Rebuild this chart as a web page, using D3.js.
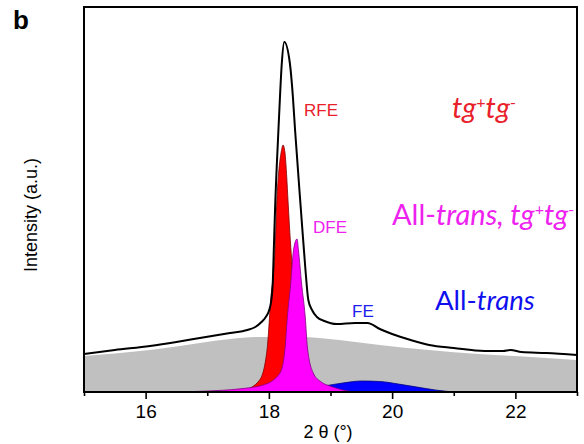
<!DOCTYPE html>
<html><head><meta charset="utf-8">
<script src="https://cdn.jsdelivr.net/npm/d3@7"></script>
<style>body{margin:0;background:#fff}svg{display:block}</style>
</head><body>
<svg id="c" width="584" height="444"></svg>
<script>
// ---- data ----
const totalX = [15.0,15.5,16.07,16.5,16.88,17.37,17.65,17.78,17.88,17.95,18.0,18.04,18.065,18.08,18.10,18.155,18.18,18.21,18.25,18.34,18.39,18.425,18.52,18.59,18.64,18.70,18.78,18.9,19.1,19.4,19.6,19.8,20.0,20.3,20.6,21.0,21.5,21.8,21.92,22.1,22.5,23.0];
const totalY = [38,42,46,50,54,59,62,65,70,75,81,92,112,142,182,262,295,329,350,329,295,262,182,125,92,82,75,71,68,69,69,63,58,52,47,44,41,41,42,40,39,37];
const bgX = [15.0,15.5,16.07,16.5,16.88,17.37,17.86,18.5,19.14,19.8,20.6,21.4,22.25,23.0];
const bgY = [36,38.5,42,45.5,49,53,55,55,52,47,42,38,35,32];
const rfeX = [17.3,17.6,17.85,17.97,18.03,18.10,18.13,18.16,18.20,18.23,18.26,18.29,18.31,18.35,18.40,18.50,18.60,18.80,19.0];
const rfeY = [0,2,12,42,92,142,192,220,240,247,240,215,192,150,110,60,30,10,0];
const dfeX = [16.5,17.0,17.5,17.91,18.18,18.26,18.30,18.355,18.40,18.457,18.48,18.53,18.59,18.625,18.72,18.85,18.99,19.2,19.4];
const dfeY = [0,1,3,7,19,42,75,109,142,153,142,109,75,45,19,10,6,2,0];
const feX = [18.0,18.5,18.9,19.2,19.5,19.8,20.1,20.4,20.7,21.0];
const feY = [0,2,6,9,11,10.5,8,5,2,0];
const majorTicks = [16,18,20,22];
const minorTicks = [15,17,19,21,23];

// ---- drawing ----
const svg = d3.select("#c");
const x = d3.scaleLinear().domain([15,23]).range([84,577]);
const y = d3.scaleLinear().domain([0,385]).range([392,7]);
const zip = (a,b) => a.map((v,i)=>[v,b[i]]);

const area = d3.area().x(d=>x(d[0])).y0(y(0)).y1(d=>y(d[1])).curve(d3.curveMonotoneX);
const line = d3.line().x(d=>x(d[0])).y(d=>y(d[1])).curve(d3.curveMonotoneX);

svg.append("path").datum(zip(bgX,bgY)).attr("d",area).attr("fill","#c0c0c0");
svg.append("path").datum(zip(feX,feY)).attr("d",area).attr("fill","#0000ff").attr("stroke","#000080").attr("stroke-width",0.8);
svg.append("path").datum(zip(rfeX,rfeY)).attr("d",area).attr("fill","#ff0000").attr("stroke","#800000").attr("stroke-width",0.8);
svg.append("path").datum(zip(dfeX,dfeY)).attr("d",area).attr("fill","#ff00ff").attr("stroke","#800080").attr("stroke-width",0.8);
svg.append("path").datum(zip(totalX,totalY)).attr("d",line).attr("fill","none").attr("stroke","#000").attr("stroke-width",2);

// frame
svg.append("rect").attr("x",x(15)).attr("y",y(385)).attr("width",x(23)-x(15)).attr("height",y(0)-y(385))
  .attr("fill","none").attr("stroke","#000").attr("stroke-width",2);

// axes
const gMaj = svg.append("g").attr("transform",`translate(0,${y(0)})`)
  .call(d3.axisBottom(x).tickValues(majorTicks).tickSize(7).tickPadding(6).tickFormat(d3.format("d")));
const gMin = svg.append("g").attr("transform",`translate(0,${y(0)})`)
  .call(d3.axisBottom(x).tickValues(minorTicks).tickSize(4).tickFormat(""));
[gMaj,gMin].forEach(g=>{g.select(".domain").remove();g.selectAll("line").attr("stroke","#000").attr("stroke-width",1.6);});
gMaj.selectAll("text").attr("font-family","Liberation Sans, Arial, sans-serif").attr("font-size",19).attr("fill","#000");

const sans = "Liberation Sans, Arial, sans-serif";
svg.append("text").attr("x",328).attr("y",438).attr("text-anchor","middle").attr("font-family",sans).attr("font-size",18).text("2 θ (°)");
svg.append("text").attr("transform","translate(37,215) rotate(-90)").attr("text-anchor","middle").attr("font-family",sans).attr("font-size",18).text("Intensity (a.u.)");
svg.append("text").attr("x",13).attr("y",29).attr("font-family",sans).attr("font-weight","bold").attr("font-size",26).text("b");

svg.append("text").attr("x",304).attr("y",116).attr("font-family",sans).attr("font-size",17).attr("fill","#e8202a").text("RFE");
svg.append("text").attr("x",313).attr("y",233).attr("font-family",sans).attr("font-size",17).attr("fill","#ee22ee").text("DFE");
svg.append("text").attr("x",352).attr("y",317).attr("font-family",sans).attr("font-size",17).attr("fill","#2020ee").text("FE");

const cal = "Lato, 'Open Sans', sans-serif";
function sup(t,s,d){ t.append("tspan").attr("dy",-d).attr("font-size",16).attr("font-style","normal").text(s); }
const t1 = svg.append("text").attr("x",452).attr("y",118).attr("font-family",cal).attr("font-size",29).attr("fill","#e8202a").attr("font-style","italic");
t1.append("tspan").text("tg"); sup(t1,"+",10); t1.append("tspan").attr("dy",10).text("tg"); sup(t1,"-",10);

const t2 = svg.append("text").attr("x",392).attr("y",225).attr("font-family",cal).attr("font-size",29).attr("fill","#ee22ee");
t2.append("tspan").text("All-"); t2.append("tspan").attr("font-style","italic").text("trans, tg"); sup(t2,"+",10); t2.append("tspan").attr("dy",10).attr("font-style","italic").text("tg"); sup(t2,"-",10);

const t3 = svg.append("text").attr("x",435).attr("y",310).attr("font-family",cal).attr("font-size",27.5).attr("fill","#1010ee");
t3.append("tspan").text("All-"); t3.append("tspan").attr("font-style","italic").text("trans");
</script>
</body></html>
